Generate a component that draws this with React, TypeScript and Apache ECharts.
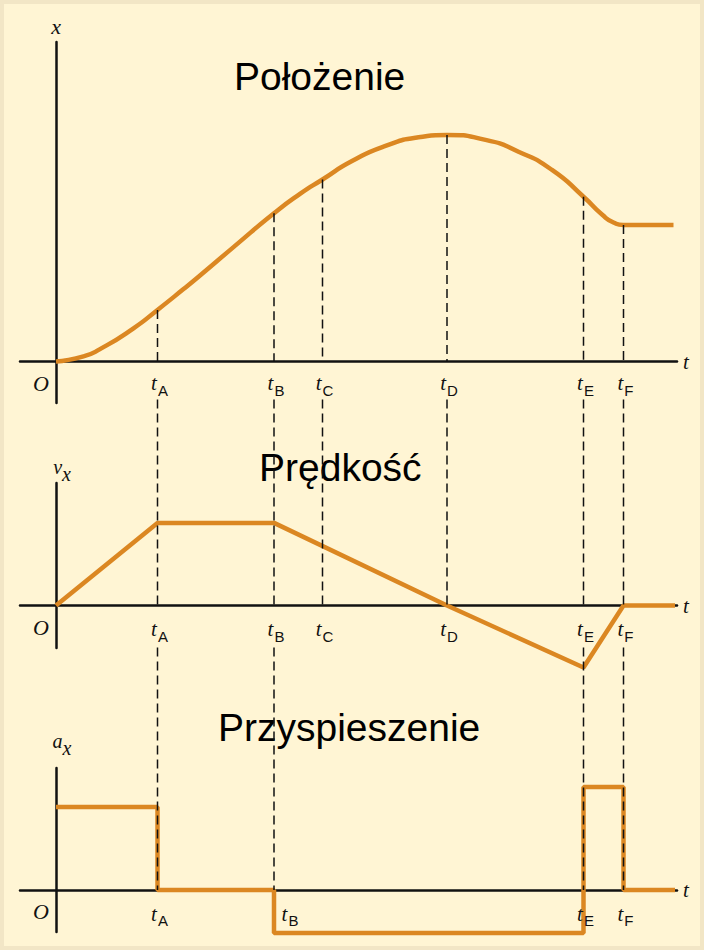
import React, { useEffect, useRef } from 'react';
import * as echarts from 'echarts';

// Instants marked on the time axis
const tickNames = ['A', 'B', 'C', 'D', 'E', 'F'];
const tickTimes = [2.03, 4.36, 5.33, 7.82, 10.55, 11.35];
// Instants that are also labelled on the acceleration graph
const accelTickNames = ['A', 'B', 'E', 'F'];

// Position x(t)
const posTimes = [0, 0.55, 0.88, 1.55, 2.03, 2.55, 2.88, 3.55, 4.36, 4.88, 5.33, 5.92, 6.59, 7.25, 7.82, 8.59, 9.25, 9.92, 10.55, 10.92, 11.15, 11.35, 12.35];
const posValues = [0, 0.26, 0.62, 1.66, 2.58, 3.62, 4.3, 5.72, 7.41, 8.38, 9.1, 10.02, 10.78, 11.21, 11.33, 11.08, 10.49, 9.58, 8.24, 7.35, 6.95, 6.83, 6.83];

// Velocity v_x(t)
const velTimes = [0, 2.03, 4.36, 7.82, 10.55, 11.35, 12.38];
const velValues = [0, 4.13, 4.13, 0, -3.1, 0, 0];

// Acceleration a_x(t), held constant until the next instant
const accTimes = [0, 2.03, 4.36, 10.55, 11.35, 12.38];
const accValues = [4.15, 0, -2.15, 5.15, 0, 0];

// Panel titles
const titles = ['Położenie', 'Prędkość', 'Przyspieszenie'];

const SERIF = "'Liberation Serif', 'DejaVu Serif', serif";
const SANS = "'Liberation Sans', Arial, sans-serif";
const ORANGE = '#db8722';
const INK = '#111111';

const zip = (xs: number[], ys: number[]) => xs.map((x, i) => [x, ys[i]]);

const tickRich = {
  t: { fontFamily: SERIF, fontStyle: 'italic', fontSize: 21, fill: INK, color: INK, verticalAlign: 'top', padding: [0, 1, 0, 0] },
  s: { fontFamily: SANS, fontSize: 15, fill: INK, color: INK, verticalAlign: 'bottom', padding: [10, 0, 0, 0] },
};

function timeAxis(gridIndex: number) {
  return {
    type: 'value',
    gridIndex,
    min: -0.72,
    max: 12.42,
    z: 3,
    name: 't',
    nameLocation: 'end',
    nameGap: 6,
    nameTextStyle: { fontFamily: SERIF, fontStyle: 'italic', fontSize: 21, color: INK },
    axisLine: { onZero: true, lineStyle: { color: INK, width: 2.5 } },
    axisTick: { show: false },
    axisLabel: { show: false },
    splitLine: { show: false },
  };
}

function valueAxis(gridIndex: number, min: number, max: number, name: string, nameGap: number) {
  return {
    type: 'value',
    gridIndex,
    min,
    max,
    z: 3,
    name,
    nameLocation: 'end',
    nameGap,
    nameTextStyle: {
      fontFamily: SERIF,
      fontStyle: 'italic',
      fontSize: 22,
      color: INK,
      rich: {
        m: { fontFamily: SERIF, fontStyle: 'italic', fontSize: 20, color: INK, verticalAlign: 'top', padding: [0, 0, 0, 12] },
        s: { fontFamily: SERIF, fontStyle: 'italic', fontSize: 20, color: INK, verticalAlign: 'bottom', padding: [7, 0, 0, 0] },
      },
    },
    axisLine: { onZero: true, lineStyle: { color: INK, width: 2.5 } },
    axisTick: { show: false },
    axisLabel: { show: false },
    splitLine: { show: false },
  };
}

const titleStyle = { fontFamily: SANS, fontSize: 39, fontWeight: 'normal', color: '#000' };

export default function App() {
  const ref = useRef<HTMLDivElement>(null);

  useEffect(() => {
    if (!ref.current) return;
    const chart = echarts.init(ref.current, null, { renderer: 'svg' });
    const lineStyle = { color: ORANGE, width: 4.5 };
    chart.setOption({
      animation: false,
      title: [
        { text: titles[0], left: 234, top: 57, padding: 0, textStyle: titleStyle },
        { text: titles[1], left: 259, top: 448, padding: 0, textStyle: titleStyle },
        { text: titles[2], left: 218, top: 708, padding: 0, textStyle: titleStyle },
      ],
      grid: [
        { left: 20, right: 27, top: 42, height: 361, outerBoundsMode: 'none' },
        { left: 20, right: 27, top: 483, height: 165, outerBoundsMode: 'none' },
        { left: 20, right: 27, top: 768, height: 164, outerBoundsMode: 'none' },
      ],
      xAxis: [timeAxis(0), timeAxis(1), timeAxis(2)],
      yAxis: [
        valueAxis(0, -2.075, 15.975, 'x', 5),
        valueAxis(1, -2.125, 6.125, '{m|v}{s|x}', -1),
        valueAxis(2, -2.1, 6.1, '{m|a}{s|x}', 10),
      ],
      series: [
        {
          type: 'line', xAxisIndex: 0, yAxisIndex: 0, data: zip(posTimes, posValues),
          smooth: 0.6, showSymbol: false, symbol: 'none', clip: false, lineStyle, silent: true,
        },
        {
          type: 'line', xAxisIndex: 1, yAxisIndex: 1, data: zip(velTimes, velValues),
          showSymbol: false, symbol: 'none', clip: false, lineStyle, silent: true,
        },
        {
          type: 'line', xAxisIndex: 2, yAxisIndex: 2, data: zip(accTimes, accValues), step: 'end',
          showSymbol: false, symbol: 'none', clip: false, lineStyle, silent: true,
        },
      ],
    });

    const toPx = (g: number, t: number, v: number) =>
      chart.convertToPixel({ xAxisIndex: g, yAxisIndex: g }, [t, v]) as number[];

    const elements: any[] = [];

    // Dashed guides from each marked instant, broken where the tick labels sit
    const segs: number[][] = [];
    tickTimes.forEach((t, i) => {
      const k = posTimes.findIndex((p) => Math.abs(p - t) < 1e-6);
      const top = toPx(0, t, posValues[k]);
      const a1 = toPx(0, t, 0);
      const a2 = toPx(1, t, 0);
      segs.push([top[0], top[1], a1[0], a1[1]]);
      segs.push([a2[0], a1[1] + 38, a2[0], a2[1]]);
      if (accelTickNames.includes(tickNames[i])) {
        const a3 = toPx(2, t, 0);
        segs.push([a3[0], a2[1] + 42, a3[0], a3[1]]);
      }
    });
    segs.forEach(([x1, y1, x2, y2]) =>
      elements.push({
        type: 'line',
        silent: true,
        z: 10,
        shape: { x1, y1, x2, y2 },
        style: { stroke: INK, lineWidth: 1.5, lineDash: [9, 5] },
      })
    );

    // Tick labels t_A … t_F and the origin O under each time axis
    const tickLabel = (g: number, t: number, name: string, dx: number, dy: number) => {
      const p = toPx(g, t, 0);
      elements.push({
        type: 'text',
        silent: true,
        z: 10,
        style: {
          x: p[0] + 2 + dx,
          y: p[1] + dy,
          text: `{t|t}{s|${name}}`,
          align: 'center',
          verticalAlign: 'top',
          rich: tickRich,
        },
      });
    };
    const originLabel = (g: number, dy: number) => {
      const p = toPx(g, 0, 0);
      elements.push({
        type: 'text',
        silent: true,
        z: 10,
        style: {
          x: p[0] - 15,
          y: p[1] + dy,
          text: 'O',
          fontFamily: SERIF,
          fontStyle: 'italic',
          fontSize: 22,
          fill: INK,
          align: 'center',
          verticalAlign: 'middle',
        },
      });
    };
    tickTimes.forEach((t, i) => {
      tickLabel(0, t, tickNames[i], 0, 11);
      tickLabel(1, t, tickNames[i], 0, 13);
      if (accelTickNames.includes(tickNames[i])) {
        tickLabel(2, t, tickNames[i], tickNames[i] === 'B' ? 14 : 0, 13);
      }
    });
    originLabel(0, 22);
    originLabel(1, 22);
    originLabel(2, 21);

    chart.setOption({ graphic: { elements } });

    return () => chart.dispose();
  }, []);

  return (
    <div
      style={{
        position: 'absolute',
        left: 0,
        top: 0,
        width: 704,
        height: 950,
        background: '#fff5d4',
        boxShadow: 'inset 0 0 0 4px #f2e6c6',
      }}
    >
      <div ref={ref} style={{ width: 704, height: 950 }} />
    </div>
  );
}
